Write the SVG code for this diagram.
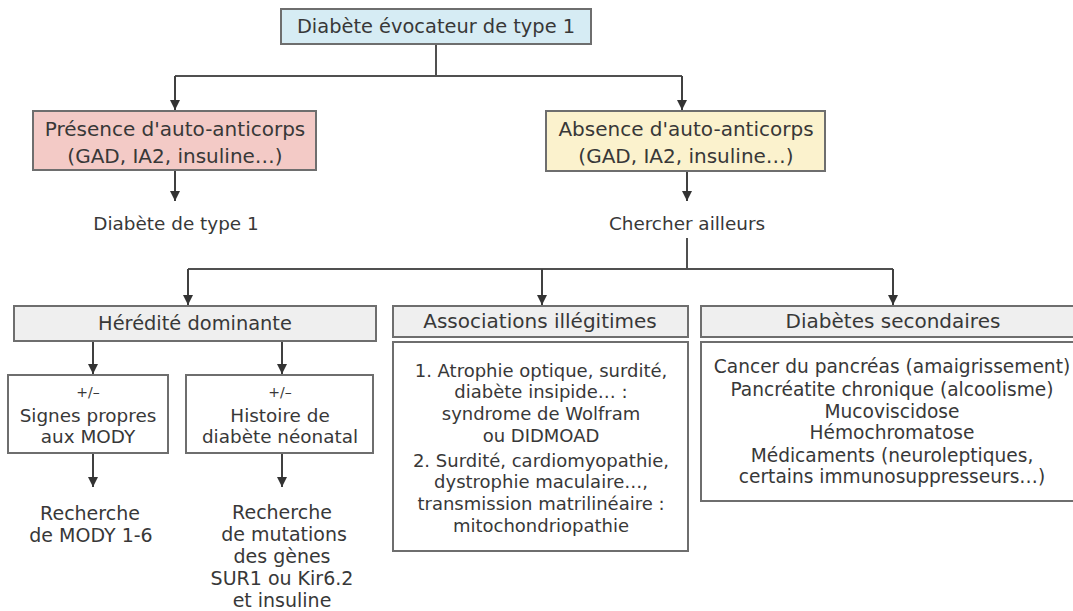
<svg xmlns="http://www.w3.org/2000/svg" width="1073" height="611" viewBox="0 0 1073 611">
<defs>
<marker id="arr" viewBox="0 0 10 10" refX="10" refY="5" markerWidth="10" markerHeight="10" markerUnits="userSpaceOnUse" orient="auto">
<path d="M0,0 L10,5 L0,10 z" fill="#333"/>
</marker>
<style>
.box{stroke:#6e6e6e;stroke-width:2}
.t{font-family:"DejaVu Sans",Verdana,sans-serif;font-size:20px;fill:#383838;text-anchor:middle}
.h{font-size:19.4px}
.s{font-size:18.4px}
.a{font-size:18px}
.b{font-size:18.6px}
.r{font-size:19px}
.xs{font-size:14px}
.ln{fill:none;stroke:#505050;stroke-width:2}
.ar{fill:none;stroke:#404040;stroke-width:2;marker-end:url(#arr)}
</style>
</defs>
<rect width="1073" height="611" fill="#ffffff"/>

<g id="connectors">
<path class="ln" d="M436,44 V76 M175,76 H682"/>
<path class="ar" d="M175,76 V110"/>
<path class="ar" d="M682,76 V110"/>
<path class="ar" d="M175,171 V201"/>
<path class="ar" d="M687,171 V201"/>
<path class="ln" d="M687,238 V269 M188,269 H893"/>
<path class="ar" d="M188,269 V305"/>
<path class="ar" d="M542,269 V305"/>
<path class="ar" d="M893,269 V305"/>
<path class="ar" d="M93,341 V374"/>
<path class="ar" d="M282,341 V374"/>
<path class="ar" d="M93,454 V487"/>
<path class="ar" d="M282,454 V487"/>
</g>

<g id="n-top">
<rect class="box" x="281" y="9" width="310" height="35" fill="#d6ecf4"/>
<text class="t h" x="436" y="33">Diabète évocateur de type 1</text>
</g>

<g id="n-presence">
<rect class="box" x="33" y="111" width="283" height="59" fill="#f3cac6"/>
<text class="t" x="175" y="136">Présence d'auto-anticorps</text>
<text class="t" x="175" y="163">(GAD, IA2, insuline…)</text>
</g>

<g id="n-absence">
<rect class="box" x="546" y="111" width="279" height="60" fill="#fbf2cd"/>
<text class="t" x="686" y="136">Absence d'auto-anticorps</text>
<text class="t" x="686" y="163">(GAD, IA2, insuline…)</text>
</g>

<g id="n-dt1">
<text class="t s" x="176" y="230">Diabète de type 1</text>
</g>

<g id="n-chercher">
<text class="t s" x="687" y="230">Chercher ailleurs</text>
</g>

<g id="n-heredite">
<rect class="box" x="14" y="306" width="362" height="35" fill="#efefef"/>
<text class="t h" x="195" y="330">Hérédité dominante</text>
</g>

<g id="n-mody">
<rect class="box" x="8" y="375" width="160" height="78" fill="#ffffff"/>
<text class="t xs" x="88" y="397">+/–</text>
<text class="t s" x="88" y="422">Signes propres</text>
<text class="t s" x="88" y="443">aux MODY</text>
</g>

<g id="n-neonatal">
<rect class="box" x="186" y="375" width="187" height="78" fill="#ffffff"/>
<text class="t xs" x="280" y="397">+/–</text>
<text class="t s" x="280" y="422">Histoire de</text>
<text class="t s" x="280" y="443">diabète néonatal</text>
</g>

<g id="n-rech-mody">
<text class="t r" x="90" y="520">Recherche</text>
<text class="t r" x="91" y="542">de MODY 1-6</text>
</g>

<g id="n-rech-mut">
<text class="t r" x="282" y="519">Recherche</text>
<text class="t r" x="284" y="541">de mutations</text>
<text class="t r" x="282" y="563">des gènes</text>
<text class="t r" x="282" y="585">SUR1 ou Kir6.2</text>
<text class="t r" x="282" y="607">et insuline</text>
</g>

<g id="n-assoc">
<rect class="box" x="393" y="306" width="295" height="31" fill="#efefef"/>
<text class="t" x="540" y="328">Associations illégitimes</text>
<rect class="box" x="393" y="342" width="295" height="209" fill="#ffffff"/>
<text class="t a" x="541" y="377">1. Atrophie optique, surdité,</text>
<text class="t a" x="541" y="398">diabète insipide… :</text>
<text class="t a" x="541" y="420">syndrome de Wolfram</text>
<text class="t a" x="541" y="442">ou DIDMOAD</text>
<text class="t a" x="541" y="467">2. Surdité, cardiomyopathie,</text>
<text class="t a" x="541" y="488">dystrophie maculaire…,</text>
<text class="t a" x="541" y="510">transmission matrilinéaire :</text>
<text class="t a" x="541" y="532">mitochondriopathie</text>
</g>

<g id="n-secondaires">
<rect class="box" x="701" y="306" width="385" height="31" fill="#efefef"/>
<text class="t" x="893" y="328">Diabètes secondaires</text>
<rect class="box" x="701" y="342" width="385" height="159" fill="#ffffff"/>
<text class="t b" x="892" y="373">Cancer du pancréas (amaigrissement)</text>
<text class="t b" x="892" y="396">Pancréatite chronique (alcoolisme)</text>
<text class="t b" x="892" y="418">Mucoviscidose</text>
<text class="t b" x="892" y="439">Hémochromatose</text>
<text class="t b" x="892" y="462">Médicaments (neuroleptiques,</text>
<text class="t b" x="892" y="483">certains immunosuppresseurs…)</text>
</g>
</svg>
